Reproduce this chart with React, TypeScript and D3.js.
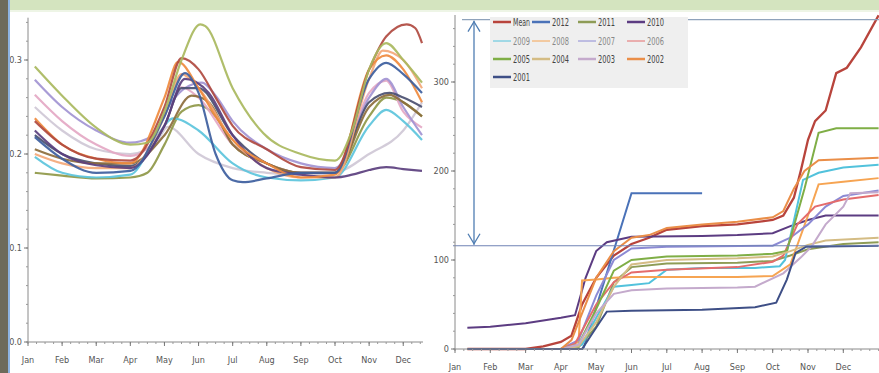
import React from "react";
import * as d3 from "d3";

const MONTHS = ["Jan", "Feb", "Mar", "Apr", "May", "Jun", "Jul", "Aug", "Sep", "Oct", "Nov", "Dec"];

// left panel: seasonal ratio curves, [month, value]
const leftA = [[0.2,0.293],[1,0.262],[2,0.228],[3,0.21],[3.5,0.212],[4,0.245],[4.5,0.3],[5.05,0.338],[5.2,0.336],[6,0.27],[6.9,0.222],[8,0.2],[9,0.193],[9.5,0.225],[10,0.29],[10.5,0.318],[11,0.3],[11.55,0.276]];
const leftB = [[0.2,0.279],[1,0.25],[2,0.225],[3,0.212],[3.6,0.218],[4.2,0.255],[4.6,0.27],[5.1,0.276],[5.5,0.262],[6,0.235],[7,0.205],[8,0.19],[9,0.185],[10,0.26],[10.5,0.28],[11,0.25],[11.55,0.22]];
const leftC = [[0.2,0.263],[1,0.235],[2,0.21],[3,0.198],[4,0.23],[4.5,0.271],[5,0.26],[6,0.21],[7,0.19],[8,0.18],[9,0.18],[10,0.265],[10.5,0.278],[11,0.245],[11.55,0.228]];
const leftD = [[0.2,0.235],[1,0.21],[2,0.195],[3,0.193],[4,0.25],[4.5,0.302],[5,0.29],[5.5,0.26],[6,0.23],[7,0.205],[8,0.186],[9,0.183],[10,0.29],[10.5,0.325],[11.1,0.338],[11.35,0.334],[11.55,0.318]];
const leftE = [[0.2,0.238],[1,0.21],[2,0.195],[3,0.19],[4,0.26],[4.4,0.298],[5,0.27],[5.5,0.24],[6,0.215],[7,0.19],[8,0.175],[9,0.178],[10,0.29],[10.5,0.305],[11,0.29],[11.55,0.255]];
const leftF = [[0.2,0.218],[1,0.195],[2,0.18],[3,0.182],[4,0.24],[4.6,0.286],[5,0.265],[5.5,0.2],[6,0.172],[6.3,0.17],[7,0.174],[8,0.18],[9,0.18],[10,0.28],[10.5,0.297],[11,0.285],[11.55,0.265]];
const leftG = [[0.2,0.205],[1,0.195],[2,0.19],[3,0.19],[4,0.22],[4.8,0.262],[5.3,0.255],[6,0.21],[7,0.19],[8,0.18],[9,0.18],[10,0.25],[10.6,0.263],[11,0.255],[11.55,0.24]];
const leftH = [[0.2,0.197],[1,0.18],[2,0.175],[3,0.178],[3.8,0.22],[4.25,0.238],[5,0.225],[6,0.19],[7,0.175],[8,0.172],[9,0.175],[10,0.23],[10.5,0.247],[11,0.235],[11.55,0.215]];
const leftI = [[0.2,0.25],[1,0.225],[2,0.205],[3,0.2],[3.8,0.215],[4.1,0.229],[5,0.2],[6,0.185],[7,0.18],[8,0.178],[9,0.18],[10,0.2],[11,0.225],[11.55,0.255]];
const leftJ = [[0.2,0.225],[1,0.2],[2,0.188],[3,0.185],[4,0.23],[4.6,0.28],[5.3,0.265],[6,0.22],[7,0.185],[8,0.178],[9,0.175],[9.5,0.178],[10,0.183],[10.5,0.186],[11,0.184],[11.55,0.182]];
const leftK = [[0.2,0.18],[1,0.177],[2,0.174],[3,0.175],[3.5,0.18],[4,0.21],[4.5,0.245],[5,0.252],[5.5,0.24],[6,0.21],[7,0.19],[8,0.18],[9,0.18],[10,0.24],[10.5,0.26],[11,0.255],[11.55,0.24]];
const leftL = [[0.2,0.2],[1,0.19],[2,0.185],[3,0.185],[4,0.24],[4.5,0.285],[5,0.27],[6,0.215],[7,0.185],[8,0.175],[9,0.175],[10,0.28],[10.4,0.31],[11,0.3],[11.55,0.27]];
const leftM = [[0.2,0.22],[1,0.2],[2,0.19],[3,0.187],[4,0.23],[4.5,0.27],[5,0.27],[6,0.22],[7,0.19],[8,0.18],[9,0.18],[10,0.255],[10.6,0.265],[11,0.26],[11.55,0.25]];

const leftSeries = [leftI, leftK, leftH, leftC, leftB, leftM, leftG, leftL, leftJ, leftE, leftF, leftD, leftA];
const leftColors = ["#cfc8d6", "#8f9848", "#5cc4dc", "#e4a8c4", "#a294d2", "#4a4f70", "#8c6c3c", "#f3a878", "#5b3f7e", "#ef8a3e", "#3d5e9e", "#b04a40", "#a9b95e"];

// right panel: cumulative totals, [month, value]
const rMean = [[0.35,0],[2,0],[2.5,3],[3,8],[3.3,15],[3.6,50],[4,80],[4.5,105],[5,118],[5.5,125],[6,134],[7,138],[8,140],[9,145],[9.3,150],[9.6,170],[9.8,201],[10,235],[10.2,256],[10.5,268],[10.8,310],[11.1,316],[11.5,339],[12,375]];
const r2012 = [[0.35,0],[3.6,0],[3.65,2],[5.0,175],[7.0,175]];
const r2011 = [[0.35,0],[3,0],[3.5,2],[4,25],[4.5,75],[5,92],[6,96],[8,97],[9,99],[9.5,105],[10,112],[11,118],[12,120]];
const r2010 = [[0.35,24],[1,25],[2,29],[3,35],[3.4,38],[3.7,80],[4,110],[4.3,120],[5,126],[7,127],[8,128],[9,130],[9.5,138],[10,145],[10.5,150],[12,150]];
const r2009 = [[0.35,0],[3.2,0],[3.6,5],[4,35],[4.5,70],[5,72],[5.5,74],[6,89],[7,91],[8.5,91],[9.2,93],[9.35,100],[9.86,190],[10.3,198],[11,204],[12,207]];
const r2008 = [[0.35,0],[3,0],[3.5,8],[3.6,77],[4,78],[4.5,80],[5,81],[8,81],[9,82],[9.5,95],[10,150],[10.3,185],[11,188],[12,192]];
const r2007 = [[0.35,0],[3,0],[3.5,10],[4,60],[4.5,100],[5,113],[6,115],[9,116],[9.5,125],[10,140],[10.5,160],[11,172],[12,178]];
const r2006 = [[0.35,0],[3,0],[3.4,6],[4,50],[4.5,75],[5,86],[6,89],[8,92],[9,98],[9.3,105],[9.7,140],[10.2,160],[11,168],[12,173]];
const r2005 = [[0.35,0],[3,0],[3.5,5],[4,45],[4.5,88],[5,100],[6,104],[8,105],[9,107],[9.4,110],[9.9,180],[10.3,243],[10.8,248],[12,248]];
const r2004 = [[0.35,0],[3,0],[3.5,3],[4,30],[4.5,70],[5,95],[6,100],[8,102],[9,104],[9.5,110],[10,117],[10.5,122],[12,125]];
const r2003 = [[0.35,0],[3,0],[3.5,5],[4,40],[4.5,62],[5,66],[6,68],[8,69],[8.5,70],[9.3,85],[9.8,103],[10.1,115],[10.5,140],[11,160],[11.2,175],[12,176]];
const r2002 = [[0.35,0],[3,0],[3.3,10],[3.6,40],[4,80],[4.5,110],[5,125],[5.5,128],[6,136],[7,140],[8,143],[9,148],[9.3,155],[9.6,180],[9.9,200],[10.3,212],[12,215]];
const r2001 = [[0.35,0],[3.6,0],[4.1,30],[4.3,42],[5,43],[7,44],[8.5,47],[9.1,52],[9.4,78],[9.65,108],[9.95,115],[12,116]];

const legendNames = ["Mean", "2012", "2011", "2010", "2009", "2008", "2007", "2006", "2005", "2004", "2003", "2002", "2001"];
const rightSeries = [rMean, r2012, r2011, r2010, r2009, r2008, r2007, r2006, r2005, r2004, r2003, r2002, r2001];
const rightColors = ["#b8443c", "#4a72b8", "#8e9c56", "#5c3c82", "#52c2dc", "#f6a452", "#8c8ad4", "#e46c6c", "#7fae46", "#d4bc84", "#c4aacc", "#ea8e48", "#3e4f86"];

// annotation range on right panel
const rangeTop = 370;
const rangeBottom = 116;

const FONT = "'DejaVu Sans Condensed', 'Liberation Sans Narrow', 'DejaVu Sans', sans-serif";

export default function App() {
  const xL = d3.scaleLinear().domain([0, 11.55]).range([28, 422]);
  const yL = d3.scaleLinear().domain([0, 0.3]).range([342, 60]);
  const xR = d3.scaleLinear().domain([0, 12]).range([455, 878.6]);
  const yR = d3.scaleLinear().domain([0, 300]).range([349, 82]);

  const lineL = d3.line<number[]>().x(d => xL(d[0])).y(d => yL(d[1])).curve(d3.curveMonotoneX);
  const lineR = d3.line<number[]>().x(d => xR(d[0])).y(d => yR(d[1]));

  const minorL = d3.range(0, 0.345, 0.02);
  const minorR = d3.range(0, 380, 20);
  const minorXL = d3.range(0, 11.55, 0.25);
  const minorXR = d3.range(0, 12.01, 0.25);

  return (
    <svg width={879} height={373} style={{ position: "absolute", left: 0, top: 0, background: "#fff" }} fontFamily={FONT}>
      <defs>
        <clipPath id="clipR"><rect x={455} y={14} width={424} height={340} /></clipPath>
        <clipPath id="clipL"><rect x={28} y={12} width={400} height={332} /></clipPath>
      </defs>
      <rect x={0} y={0} width={879} height={373} fill="#fff" />
      <rect x={0} y={0} width={879} height={10} fill="#d4e4bf" />
      <rect x={0} y={10} width={879} height={2} fill="#eef5e6" />

      {/* left panel */}
      <g clipPath="url(#clipL)">
        {leftSeries.map((s, i) => (
          <path key={i} d={lineL(s) || ""} fill="none" stroke={leftColors[i]} strokeWidth={2.2} strokeOpacity={0.92} />
        ))}
      </g>
      <line x1={28} x2={28} y1={yL(0.345)} y2={342} stroke="#8a8a8a" />
      <line x1={28} x2={423} y1={342} y2={342} stroke="#8a8a8a" />
      {minorL.map((v, i) => <line key={i} x1={26} x2={28} y1={yL(v)} y2={yL(v)} stroke="#999" />)}
      {[0, 0.1, 0.2, 0.3].map(v => (
        <g key={v}>
          <line x1={24} x2={28} y1={yL(v)} y2={yL(v)} stroke="#777" />
          <text x={22} y={yL(v) + 3} fontSize={9} textAnchor="end" fill="#555">{v.toFixed(1)}</text>
        </g>
      ))}
      {minorXL.map((m, i) => <line key={i} x1={xL(m)} x2={xL(m)} y1={342} y2={344} stroke="#999" />)}
      {MONTHS.map((mo, i) => (
        <g key={mo}>
          <line x1={xL(i)} x2={xL(i)} y1={342} y2={346} stroke="#777" />
          <text x={xL(i)} y={363} fontSize={9} textAnchor="middle" fill="#555">{mo}</text>
        </g>
      ))}

      {/* right panel */}
      <g clipPath="url(#clipR)">
        {rightSeries.map((s, i) => (
          <path key={i} d={lineR(s) || ""} fill="none" stroke={rightColors[i]} strokeWidth={i === 0 ? 2.3 : 2} />
        ))}
      </g>
      <line x1={462} x2={879} y1={yR(rangeTop)} y2={yR(rangeTop)} stroke="#8fa3bb" strokeWidth={1.2} />
      <line x1={453} x2={879} y1={yR(rangeBottom)} y2={yR(rangeBottom)} stroke="#6f82b4" strokeWidth={1.2} />
      <line x1={474} x2={474} y1={yR(rangeTop) + 1} y2={yR(rangeBottom) - 1} stroke="#4f7db2" strokeWidth={1.3} />
      <path d={`M468,${yR(rangeTop) + 12}L474,${yR(rangeTop) + 2}L480,${yR(rangeTop) + 12}`} fill="none" stroke="#4f7db2" strokeWidth={1.3} />
      <path d={`M468,${yR(rangeBottom) - 12}L474,${yR(rangeBottom) - 2}L480,${yR(rangeBottom) - 12}`} fill="none" stroke="#4f7db2" strokeWidth={1.3} />

      <line x1={455} x2={455} y1={15} y2={349} stroke="#8a8a8a" />
      <line x1={455} x2={879} y1={349} y2={349} stroke="#8a8a8a" />
      {minorR.map((v, i) => <line key={i} x1={453} x2={455} y1={yR(v)} y2={yR(v)} stroke="#999" />)}
      {[0, 100, 200, 300].map(v => (
        <g key={v}>
          <line x1={451} x2={455} y1={yR(v)} y2={yR(v)} stroke="#777" />
          <text x={449} y={yR(v) + 3} fontSize={9} textAnchor="end" fill="#555">{v}</text>
        </g>
      ))}
      {minorXR.map((m, i) => <line key={i} x1={xR(m)} x2={xR(m)} y1={349} y2={351} stroke="#999" />)}
      {MONTHS.map((mo, i) => (
        <g key={mo}>
          <line x1={xR(i)} x2={xR(i)} y1={349} y2={353} stroke="#777" />
          <text x={xR(i)} y={370} fontSize={9} textAnchor="middle" fill="#555">{mo}</text>
        </g>
      ))}

      {/* legend */}
      <rect x={490} y={17} width={198} height={71} fill="#efefef" />
      {legendNames.map((name, i) => {
        const col = i % 4;
        const row = Math.floor(i / 4);
        const lx = [493, 532, 578, 627][col];
        const ly = [22, 41, 59, 77][row];
        return (
          <g key={name}>
            <line x1={lx} x2={lx + 18} y1={ly} y2={ly} stroke={rightColors[i]} strokeWidth={row === 1 ? 1 : 2.5} />
            <text x={lx + 20} y={ly + 4} fontSize={11} fill={row === 1 ? "#888" : "#444"} textLength={17} lengthAdjust="spacingAndGlyphs">{name}</text>
          </g>
        );
      })}

      {/* window frame on the left */}
      <rect x={0} y={0} width={8} height={373} fill="#6d6a5b" />
      <rect x={8} y={0} width={2} height={373} fill="#8db3e2" />
    </svg>
  );
}
